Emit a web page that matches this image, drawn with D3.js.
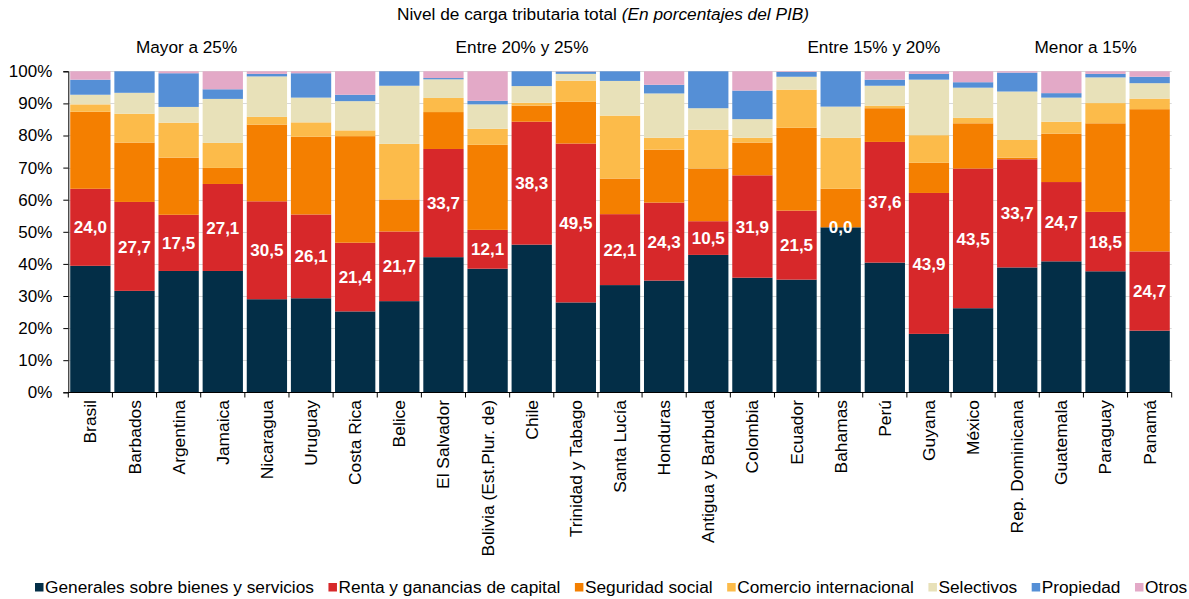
<!DOCTYPE html>
<html>
<head>
<meta charset="utf-8">
<script src="https://cdn.jsdelivr.net/npm/d3@7"></script>
<style>
  html, body { margin: 0; padding: 0; background: #fff; }
  svg { display: block; font-family: "Liberation Sans", Arial, sans-serif; }
</style>
</head>
<body>
<svg id="chart" width="1189" height="599"></svg>
<script>
// ---- Data ----
const categories = ["Brasil","Barbados","Argentina","Jamaica","Nicaragua","Uruguay","Costa Rica","Belice","El Salvador","Bolivia (Est.Plur. de)","Chile","Trinidad y Tabago","Santa Lucía","Honduras","Antigua y Barbuda","Colombia","Ecuador","Bahamas","Perú","Guyana","México","Rep. Dominicana","Guatemala","Paraguay","Panamá"];

const seriesNames = ["Generales sobre bienes y servicios","Renta y ganancias de capital","Seguridad social","Comercio internacional","Selectivos","Propiedad","Otros"];

const generales  = [39.4,31.6,37.8,37.8,29.0,29.3,25.2,28.4,42.1,38.5,46.0,28.0,33.4,34.8,42.8,35.7,35.1,51.4,40.4,18.2,26.2,38.9,40.8,37.7,19.2];
const renta      = [24.0,27.7,17.5,27.1,30.5,26.1,21.4,21.7,33.7,12.1,38.3,49.5,22.1,24.3,10.5,31.9,21.5,0.0,37.6,43.9,43.5,33.7,24.7,18.5,24.7];
const seguridad  = [24.0,18.5,17.8,5.0,23.9,24.2,33.2,10.0,11.5,26.5,5.0,13.0,11.1,16.5,16.4,10.2,25.8,12.0,10.5,9.4,14.1,0.5,15.1,27.6,44.3];
const comercio   = [2.3,9.0,10.9,7.8,2.4,4.5,1.8,17.3,4.4,5.0,0.9,6.6,19.6,3.7,12.1,1.5,11.9,15.9,0.8,8.6,1.7,5.5,3.7,6.3,3.3];
const selectivos = [3.0,6.5,4.9,13.7,12.6,7.7,9.1,18.1,5.8,7.6,5.2,2.1,10.8,13.8,6.7,5.8,4.0,9.7,6.2,17.3,9.4,15.1,7.5,8.0,4.8];
const propiedad  = [4.7,6.7,10.5,3.0,0.8,7.6,2.0,4.5,0.4,1.1,4.6,0.7,3.0,2.7,11.5,8.9,1.5,11.0,1.9,1.8,1.7,5.9,1.4,1.1,2.0];
const otros      = [2.6,0.0,0.6,5.6,0.8,0.6,7.3,0.0,2.1,9.2,0.0,0.1,0.0,4.2,0.0,6.0,0.2,0.0,2.6,0.8,3.4,0.4,6.8,0.8,1.7];

const yTicks = [0,10,20,30,40,50,60,70,80,90,100];
const groupLabels = ["Mayor a 25%","Entre 20% y 25%","Entre 15% y 20%","Menor a 15%"];
const titleMain = "Nivel de carga tributaria total ";
const titleItalic = "(En porcentajes del PIB)";

const colors = ["#032E47","#D7282A","#F47F00","#FCBB4A","#E8E1B9","#558FD6","#E3A9C7"];

// ---- Build table ----
const seriesArrays = [generales, renta, seguridad, comercio, selectivos, propiedad, otros];
const rows = categories.map((c, i) => {
  const r = { cat: c };
  seriesNames.forEach((s, k) => r[s] = seriesArrays[k][i]);
  return r;
});

const svg = d3.select("#chart");
const x = d3.scaleBand().domain(categories).range([68.3, 1171.7]).paddingInner(0.087).paddingOuter(0.0435);
const y = d3.scaleLinear().domain([0, 100]).range([392.3, 71.3]);

// gridlines
svg.append("g").selectAll("line").data(yTicks.filter(d => d > 0)).join("line")
  .attr("x1", 68.3).attr("x2", 1171.7)
  .attr("y1", d => Math.round(y(d)) + 0.5).attr("y2", d => Math.round(y(d)) + 0.5)
  .attr("stroke", "#d9d9d9").attr("stroke-width", 1);

// stacked bars
const stack = d3.stack().keys(seriesNames);
const stacked = stack(rows);
svg.append("g").selectAll("g").data(stacked).join("g")
  .attr("fill", (d, i) => colors[i])
  .selectAll("rect").data(d => d).join("rect")
  .attr("x", d => x(d.data.cat))
  .attr("width", x.bandwidth())
  .attr("y", d => y(d[1]))
  .attr("height", d => Math.max(0, y(d[0]) - y(d[1])));

// labels for renta
const fmt = v => v.toFixed(1).replace(".", ",");
svg.append("g").selectAll("text").data(stacked[1]).join("text")
  .attr("x", d => x(d.data.cat) + x.bandwidth() / 2)
  .attr("y", d => (y(d[0]) + y(d[1])) / 2)
  .attr("dy", "0.36em")
  .attr("text-anchor", "middle")
  .attr("fill", "#fff")
  .attr("font-weight", "bold")
  .attr("font-size", 17)
  .text(d => fmt(d.data[seriesNames[1]]));

// y axis
const yAxis = d3.axisLeft(y).tickValues(yTicks).tickFormat(d => d + "%").tickSize(5).tickPadding(11);
const gy = svg.append("g").attr("transform", "translate(68.3,0)").call(yAxis);
gy.select(".domain").attr("stroke", "#000");
gy.selectAll(".tick line").attr("stroke", "#000");
gy.selectAll(".tick text").attr("font-size", 17).attr("fill", "#000").attr("font-family", "Liberation Sans, Arial, sans-serif");

// x axis
const xAxisG = svg.append("g");
xAxisG.append("line").attr("x1", 68.3).attr("x2", 1171.7).attr("y1", 392.5).attr("y2", 392.5).attr("stroke", "#000");
const bounds = categories.map(c => x(c) - x.step() * x.paddingInner() / 2).concat([1171.7]);
xAxisG.selectAll("line.t").data(bounds).join("line").attr("class", "t")
  .attr("x1", d => d).attr("x2", d => d).attr("y1", 392.5).attr("y2", 397.5).attr("stroke", "#000");
xAxisG.selectAll("text").data(categories).join("text")
  .attr("transform", d => `translate(${x(d) + x.bandwidth() / 2 + 6},400) rotate(-90)`)
  .attr("text-anchor", "end")
  .attr("font-size", 17.4)
  .attr("fill", "#000")
  .text(d => d);

// group headers (placed over their bar ranges)
const groupCenters = [2.18, 9.78, 17.75, 22.55];
const idx = d3.scaleLinear().domain([0, 1]).range([x(categories[0]) + x.bandwidth() / 2, x(categories[1]) + x.bandwidth() / 2]);
svg.append("g").selectAll("text").data(groupLabels).join("text")
  .attr("x", (d, i) => idx(groupCenters[i]))
  .attr("y", 53)
  .attr("text-anchor", "middle")
  .attr("font-size", 17.2)
  .attr("fill", "#000")
  .text(d => d);

// title
const t = svg.append("text").attr("x", 603).attr("y", 20).attr("text-anchor", "middle").attr("font-size", 17.3).attr("fill", "#000");
t.append("tspan").text(titleMain);
t.append("tspan").attr("font-style", "italic").text(titleItalic);

// legend
const lg = svg.append("g");
let lx = 35;
seriesNames.forEach((s, i) => {
  lg.append("rect").attr("x", lx).attr("y", 583).attr("width", 8.5).attr("height", 8.5).attr("fill", colors[i]);
  const tx = lg.append("text").attr("x", lx + 10).attr("y", 592.5).attr("font-size", 17.3).attr("fill", "#000").text(s);
  lx += 10 + tx.node().getComputedTextLength() + 14.5;
});
</script>
</body>
</html>
